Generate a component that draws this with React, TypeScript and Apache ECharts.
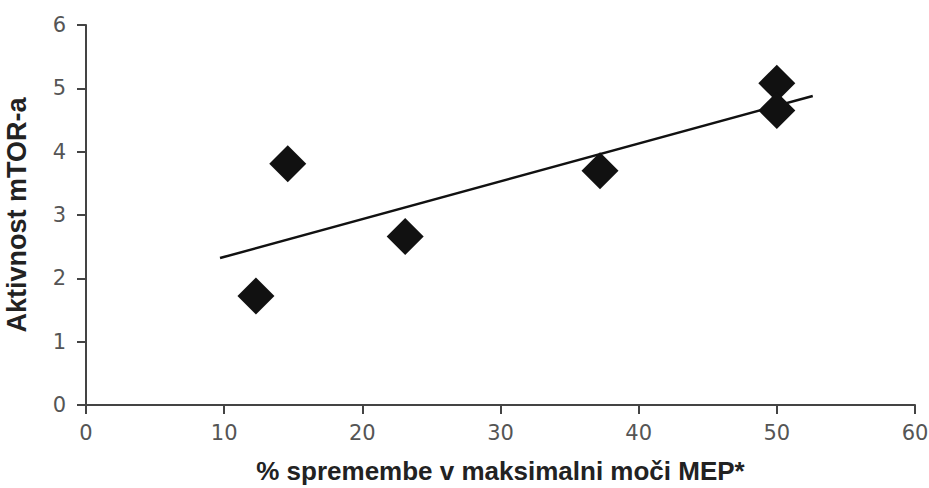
import React, { useEffect, useRef } from "react";
import * as echarts from "echarts";

const xValues = [12.3, 14.6, 23.1, 37.2, 50.0, 50.0];
const yValues = [1.72, 3.81, 2.66, 3.7, 5.08, 4.65];
const trendX = [9.7, 52.6];
const trendY = [2.32, 4.88];
const xAxisTitle = "% spremembe v maksimalni moči MEP*";
const yAxisTitle = "Aktivnost mTOR-a";

export default function App() {
  const ref = useRef<HTMLDivElement>(null);
  useEffect(() => {
    if (!ref.current) return;
    const chart = echarts.init(ref.current, null, { renderer: "svg" });
    const axisLine = { show: true, lineStyle: { color: "#444", width: 2 } };
    const axisTick = { show: true, length: 9, lineStyle: { color: "#444", width: 2 } };
    const axisLabel = { color: "#555", fontSize: 21, fontFamily: "DejaVu Sans, sans-serif" };
    const titleStyle = { color: "#222", fontWeight: "bold", fontFamily: "Liberation Sans, Arial, sans-serif" };
    chart.setOption({
      animation: false,
      backgroundColor: "#fff",
      grid: { left: 86, right: 14, top: 25, bottom: 83, containLabel: false, outerBoundsMode: "none" },
      xAxis: {
        type: "value",
        min: 0,
        max: 60,
        interval: 10,
        splitLine: { show: false },
        axisLine,
        axisTick,
        axisLabel: { ...axisLabel, margin: 17 },
        name: xAxisTitle,
        nameLocation: "middle",
        nameGap: 53,
        nameTextStyle: { ...titleStyle, fontSize: 26 },
      },
      yAxis: {
        type: "value",
        min: 0,
        max: 6,
        interval: 1,
        splitLine: { show: false },
        axisLine,
        axisTick,
        axisLabel: { ...axisLabel, margin: 20 },
        name: yAxisTitle,
        nameLocation: "middle",
        nameGap: 56,
        nameRotate: 90,
        nameTextStyle: { ...titleStyle, fontSize: 27 },
      },
      series: [
        {
          type: "line",
          data: trendX.map((x, i) => [x, trendY[i]]),
          showSymbol: false,
          symbol: "none",
          lineStyle: { color: "#111", width: 2.5 },
          z: 2,
        },
        {
          type: "scatter",
          data: xValues.map((x, i) => [x, yValues[i]]),
          symbol: "diamond",
          symbolSize: 37,
          itemStyle: { color: "#111", opacity: 1 },
          z: 3,
        },
      ],
    });
    return () => chart.dispose();
  }, []);
  return <div ref={ref} style={{ width: 929, height: 488, position: "absolute", left: 0, top: 0 }} />;
}
